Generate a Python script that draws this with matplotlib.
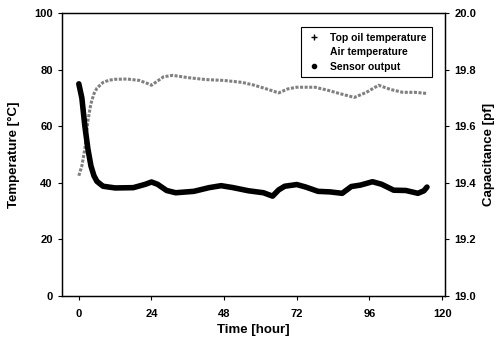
import numpy as np
import matplotlib
matplotlib.use('Agg')
import matplotlib.pyplot as plt
from matplotlib.lines import Line2D

plt.rcParams['font.family'] = ['Liberation Sans', 'DejaVu Sans']
plt.rcParams['font.weight'] = 'bold'

# top oil temperature (deg C)
t_oil = [0, 1, 2, 3, 4, 5, 6, 8, 10, 12, 16, 20, 23, 24, 26, 28, 31, 36, 42, 48,
         54, 58, 62, 66, 69, 72, 78, 82, 86, 91, 95, 99, 103, 107, 111, 115]
oil = [42.5, 46, 52, 62, 68, 71.5, 73.5, 75.5, 76.3, 76.6, 76.7, 76.2, 75, 74.5, 76, 77.5,
       78, 77.2, 76.5, 76.2, 75.5, 74.5, 73.2, 71.8, 73.2, 73.8, 73.8, 72.8, 71.6, 70.2,
       72, 74.5, 73, 72, 72, 71.6]

# sensor output (pF)
t_sen = [0, 1, 2, 3, 4, 5, 6, 8, 12, 18, 22, 24, 26, 29, 32, 38, 43, 47, 51, 56, 61,
         64, 66, 68, 72, 75, 79, 83, 87, 90, 93, 97, 100, 104, 108, 112, 114, 115]
cap = [19.75, 19.70, 19.60, 19.52, 19.46, 19.425, 19.405, 19.388, 19.382, 19.383, 19.395,
       19.403, 19.395, 19.373, 19.365, 19.37, 19.383, 19.39, 19.383, 19.372, 19.365,
       19.353, 19.375, 19.388, 19.394, 19.385, 19.37, 19.368, 19.363, 19.387, 19.392,
       19.404, 19.395, 19.374, 19.373, 19.363, 19.372, 19.385]

xticks = [0, 24, 48, 72, 96, 120]

fig = plt.figure(figsize=(5.03, 3.45), dpi=100)
ax = fig.add_axes([0.123, 0.142, 0.762, 0.82])
ax2 = ax.twinx()

ax.plot(t_oil, oil, c='0.5', lw=2.2, ls=(0, (1, 0.5)))
ax2.plot(t_sen, cap, c='k', lw=4.0, solid_capstyle='round', solid_joinstyle='round')

ax.set_xlim(-5.6, 121)
ax.set_ylim(0, 100)
ax2.set_ylim(19.0, 20.0)
ax.set_xticks(xticks)
ax.set_yticks([0, 20, 40, 60, 80, 100])
ax2.set_yticks([19.0, 19.2, 19.4, 19.6, 19.8, 20.0])
ax2.set_yticklabels(['19.0', '19.2', '19.4', '19.6', '19.8', '20.0'])

for a in (ax, ax2):
    a.tick_params(direction='out', length=3, width=0.8, labelsize=8)
    for s in a.spines.values():
        s.set_linewidth(0.9)
ax.tick_params(axis='x', pad=6)

ax.set_xlabel('Time [hour]', fontsize=9.5, fontweight='bold')
ax.set_ylabel('Temperature [\u00b0C]', fontsize=9.5, fontweight='bold', labelpad=10)
ax2.set_ylabel('Capacitance [pf]', fontsize=9.5, fontweight='bold', labelpad=5)

handles = [Line2D([], [], ls='none', marker='+', ms=4, c='k'),
           Line2D([], [], ls='none', marker=None, c='k'),
           Line2D([], [], ls='none', marker='o', ms=3, c='k')]
leg = ax2.legend(handles, ['Top oil temperature', 'Air temperature', 'Sensor output'],
                 loc='upper right', bbox_to_anchor=(0.979, 0.968), fontsize=7.5,
                 fancybox=False, edgecolor='k', framealpha=1, handlelength=1.5,
                 labelspacing=0.45, borderpad=0.5)
leg.get_frame().set_linewidth(0.8)
for txt in leg.get_texts():
    txt.set_fontweight('bold')

fig.savefig('out.png', dpi=100)
